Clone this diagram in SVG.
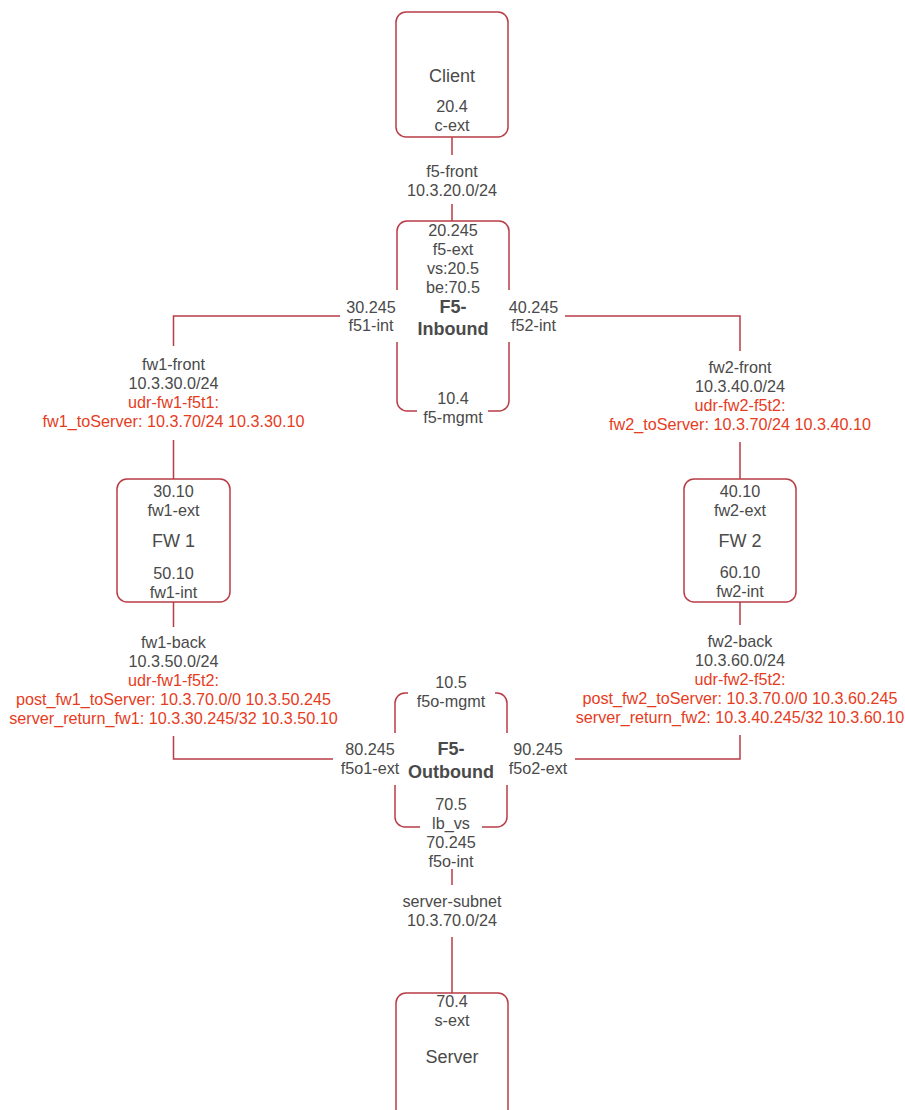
<svg xmlns="http://www.w3.org/2000/svg" width="905" height="1110" viewBox="0 0 905 1110">
<style>
.box{fill:#ffffff;stroke:#b83c46;stroke-width:1.5}
.edge{fill:none;stroke:#b83c46;stroke-width:1.5}
.bg{fill:#ffffff;stroke:none}
text{font-family:"Liberation Sans",Arial,sans-serif;font-size:16.2px;fill:#4a4a4a;text-anchor:middle}
.big{font-size:18px}
.bold{font-size:18px;font-weight:bold}
.red{fill:#e63c1e}
</style>
<rect width="905" height="1110" fill="#ffffff"/>
<g id="connectors">
<path class="edge" d="M452,137 V155 M452,204 V221"/>
<path class="edge" d="M340,316 H173.5 V346 M173.5,440 V479"/>
<path class="edge" d="M565,316 H740 V351 M740,442 V479"/>
<path class="edge" d="M173.5,602 V627 M173.5,736 V759 H333"/>
<path class="edge" d="M740,602 V625 M740,735 V759 H575"/>
<path class="edge" d="M452,869 V885 M452,937 V993"/>
</g>
<g id="client">
<rect class="box" x="396" y="12" width="112" height="125" rx="10"/>
<text class="big" x="452" y="82">Client</text>
<text x="452" y="112">20.4</text>
<text x="452" y="131">c-ext</text>
</g>
<g id="f5-front-label">
<text x="452" y="177">f5-front</text>
<text x="452" y="196">10.3.20.0/24</text>
</g>
<g id="f5-inbound">
<rect class="box" x="397" y="221" width="112" height="190" rx="10"/>
<rect class="bg" x="340" y="290" width="60" height="52"/>
<rect class="bg" x="506" y="290" width="59" height="52"/>
<rect class="bg" x="417" y="386" width="71" height="40"/>
<text x="453" y="236">20.245</text>
<text x="453" y="255">f5-ext</text>
<text x="453" y="274">vs:20.5</text>
<text x="453" y="293">be:70.5</text>
<text class="bold" x="453" y="313">F5-</text>
<text class="bold" x="453" y="335">Inbound</text>
<text x="371" y="313">30.245</text>
<text x="371" y="331">f51-int</text>
<text x="533.5" y="313">40.245</text>
<text x="533.5" y="331">f52-int</text>
<text x="453" y="404">10.4</text>
<text x="453" y="423">f5-mgmt</text>
</g>
<g id="fw1-front-label">
<text x="173.5" y="370">fw1-front</text>
<text x="173.5" y="389">10.3.30.0/24</text>
<text class="red" x="173.5" y="408">udr-fw1-f5t1:</text>
<text class="red" x="173.5" y="427">fw1_toServer: 10.3.70/24 10.3.30.10</text>
</g>
<g id="fw2-front-label">
<text x="740" y="373">fw2-front</text>
<text x="740" y="392">10.3.40.0/24</text>
<text class="red" x="740" y="411">udr-fw2-f5t2:</text>
<text class="red" x="740" y="430">fw2_toServer: 10.3.70/24 10.3.40.10</text>
</g>
<g id="fw1">
<rect class="box" x="117" y="479" width="113" height="123" rx="10"/>
<text x="173.5" y="497">30.10</text>
<text x="173.5" y="516">fw1-ext</text>
<text class="big" x="173.5" y="547">FW 1</text>
<text x="173.5" y="579">50.10</text>
<text x="173.5" y="598">fw1-int</text>
</g>
<g id="fw2">
<rect class="box" x="684" y="479" width="112" height="123" rx="10"/>
<text x="740" y="497">40.10</text>
<text x="740" y="516">fw2-ext</text>
<text class="big" x="740" y="547">FW 2</text>
<text x="740" y="578">60.10</text>
<text x="740" y="597">fw2-int</text>
</g>
<g id="fw1-back-label">
<text x="173.5" y="648">fw1-back</text>
<text x="173.5" y="667">10.3.50.0/24</text>
<text class="red" x="173.5" y="686">udr-fw1-f5t2:</text>
<text class="red" x="173.5" y="705">post_fw1_toServer: 10.3.70.0/0 10.3.50.245</text>
<text class="red" x="173.5" y="724">server_return_fw1: 10.3.30.245/32 10.3.50.10</text>
</g>
<g id="fw2-back-label">
<text x="740" y="647">fw2-back</text>
<text x="740" y="666">10.3.60.0/24</text>
<text class="red" x="740" y="685">udr-fw2-f5t2:</text>
<text class="red" x="740" y="704">post_fw2_toServer: 10.3.70.0/0 10.3.60.245</text>
<text class="red" x="740" y="723">server_return_fw2: 10.3.40.245/32 10.3.60.10</text>
</g>
<g id="f5-outbound">
<rect class="box" x="395" y="693" width="112" height="134" rx="10"/>
<rect class="bg" x="408" y="672" width="87" height="40"/>
<rect class="bg" x="333" y="733" width="66" height="52"/>
<rect class="bg" x="503" y="733" width="72" height="52"/>
<rect class="bg" x="420" y="795" width="62" height="40"/>
<text x="451" y="688">10.5</text>
<text x="451" y="707">f5o-mgmt</text>
<text class="bold" x="451" y="755">F5-</text>
<text class="bold" x="451" y="778">Outbound</text>
<text x="370" y="755">80.245</text>
<text x="370" y="774">f5o1-ext</text>
<text x="538" y="755">90.245</text>
<text x="538" y="774">f5o2-ext</text>
<text x="451" y="810">70.5</text>
<text x="451" y="829">lb_vs</text>
<text x="451" y="848">70.245</text>
<text x="451" y="867">f5o-int</text>
</g>
<g id="server-subnet-label">
<text x="452" y="907">server-subnet</text>
<text x="452" y="926">10.3.70.0/24</text>
</g>
<g id="server">
<rect class="box" x="396" y="993" width="112" height="140" rx="10"/>
<text x="452" y="1007">70.4</text>
<text x="452" y="1026">s-ext</text>
<text class="big" x="452" y="1063">Server</text>
</g>
</svg>
